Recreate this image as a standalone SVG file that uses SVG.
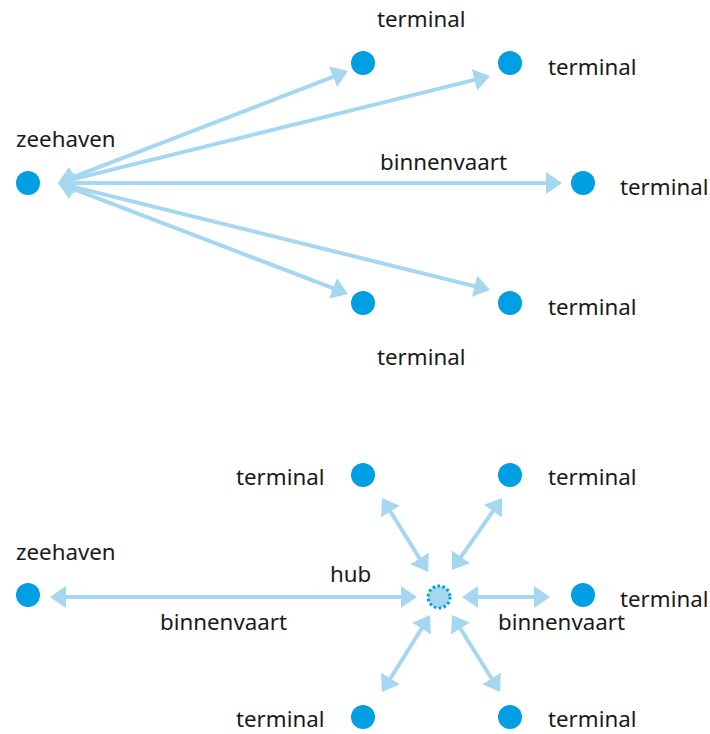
<svg xmlns="http://www.w3.org/2000/svg" width="710" height="734" viewBox="0 0 710 734">
<style>
.dot{fill:#009ee2}
.ln{stroke:#a5d7f1;stroke-width:4;fill:none;marker-end:url(#ah);marker-start:url(#ah)}
.t{font-family:"Noto Sans",sans-serif;font-size:22.3px;fill:#1a1a1a}
</style>
<defs>
<marker id="ah" markerUnits="userSpaceOnUse" markerWidth="16" markerHeight="22" refX="4" refY="11" orient="auto-start-reverse" viewBox="0 0 16 22">
<path d="M0,0 L16,11 L0,22 Z" fill="#a5d7f1"/>
</marker>
</defs>
<rect width="710" height="734" fill="#fff"/>
<g id="connectors">
<line class="ln" x1="69.2" y1="178.7" x2="336.8" y2="75.3"/>
<line class="ln" x1="69.6" y1="180.1" x2="478.4" y2="78.9"/>
<line class="ln" x1="70" y1="183" x2="550" y2="183"/>
<line class="ln" x1="69.2" y1="187.3" x2="336.8" y2="289.7"/>
<line class="ln" x1="69.6" y1="185.9" x2="478.4" y2="287.1"/>
<line class="ln" x1="62" y1="597" x2="405" y2="597"/>
<line class="ln" x1="474" y1="597" x2="538" y2="597"/>
<line class="ln" x1="388.3" y1="508.2" x2="421.7" y2="561.8"/>
<line class="ln" x1="495.2" y1="507.9" x2="458.8" y2="560.1"/>
<line class="ln" x1="423.7" y1="625.2" x2="388.3" y2="681.8"/>
<line class="ln" x1="458.3" y1="625.2" x2="493.7" y2="681.8"/>
</g>
<g id="labels">
<text class="t" x="380" y="170">binnenvaart</text>
<text class="t" x="330" y="582">hub</text>
<text class="t" x="160" y="630">binnenvaart</text>
<text class="t" x="498" y="630">binnenvaart</text>
</g>
<g id="zeehaven-top"><circle class="dot" cx="28" cy="183" r="12"/><text class="t" x="16" y="147">zeehaven</text></g>
<g id="terminal-t1"><circle class="dot" cx="363" cy="63" r="12"/><text class="t" x="377" y="27">terminal</text></g>
<g id="terminal-t2"><circle class="dot" cx="510" cy="63" r="12"/><text class="t" x="548" y="75">terminal</text></g>
<g id="terminal-t3"><circle class="dot" cx="583" cy="183" r="12"/><text class="t" x="620" y="195">terminal</text></g>
<g id="terminal-t4"><circle class="dot" cx="363" cy="303" r="12"/><text class="t" x="377" y="365">terminal</text></g>
<g id="terminal-t5"><circle class="dot" cx="510" cy="303" r="12"/><text class="t" x="548" y="315">terminal</text></g>
<g id="zeehaven-bottom"><circle class="dot" cx="28" cy="595" r="12"/><text class="t" x="16" y="560">zeehaven</text></g>
<g id="hub"><circle cx="439" cy="597" r="11" fill="#a5d7f1" stroke="#009ee2" stroke-width="3" stroke-dasharray="2.5 2.5"/></g>
<g id="terminal-b1"><circle class="dot" cx="363" cy="475" r="12"/><text class="t" x="236" y="485">terminal</text></g>
<g id="terminal-b2"><circle class="dot" cx="510" cy="475" r="12"/><text class="t" x="548" y="485">terminal</text></g>
<g id="terminal-b3"><circle class="dot" cx="583" cy="595" r="12"/><text class="t" x="620" y="607">terminal</text></g>
<g id="terminal-b4"><circle class="dot" cx="363" cy="717" r="12"/><text class="t" x="236" y="727">terminal</text></g>
<g id="terminal-b5"><circle class="dot" cx="510" cy="717" r="12"/><text class="t" x="548" y="727">terminal</text></g>
</svg>
